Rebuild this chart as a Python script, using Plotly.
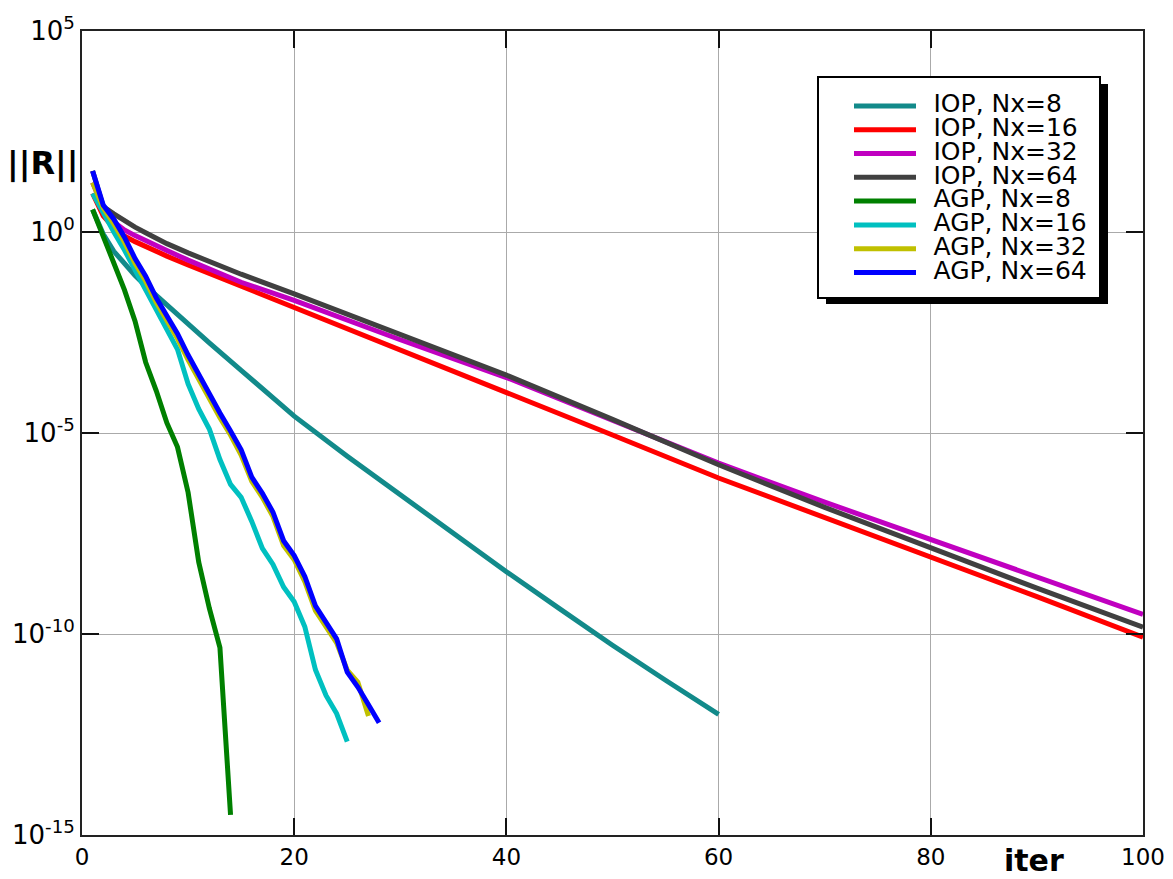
import plotly.graph_objects as go

# ---------------- data (log10 of ||R||) ----------------
iter_iop = [1, 2, 3, 4, 5, 6, 8, 10, 12, 15, 20, 30, 40, 50, 60, 70, 80, 90, 100]
iop16_log = [0.96, 0.40, 0.10, -0.10, -0.24, -0.37, -0.60, -0.82, -1.03, -1.35, -1.87,
             -2.93, -3.97, -5.05, -6.12, -7.10, -8.06, -9.07, -10.08]
iop32_log = [1.23, 0.60, 0.25, 0.05, -0.09, -0.22, -0.46, -0.70, -0.93, -1.25, -1.70,
             -2.68, -3.62, -4.68, -5.75, -6.72, -7.66, -8.59, -9.51]
iop64_log = [1.52, 0.63, 0.45, 0.27, 0.12, -0.02, -0.29, -0.52, -0.74, -1.05, -1.54,
             -2.56, -3.56, -4.66, -5.79, -6.85, -7.87, -8.86, -9.83]

iter_iop8 = [1, 2, 3, 4, 5, 6, 7, 8, 10, 12, 15, 20, 25, 30, 35, 40, 45, 50, 55, 60]
iop8_log = [0.56, -0.05, -0.48, -0.80, -1.08, -1.34, -1.58, -1.82, -2.30, -2.76, -3.44,
            -4.58, -5.58, -6.54, -7.50, -8.45, -9.37, -10.28, -11.15, -12.00]

iter_agp8 = list(range(1, 15))
agp8_log = [0.56, -0.12, -0.80, -1.44, -2.22, -3.24, -3.95, -4.75, -5.35, -6.48,
            -8.21, -9.36, -10.34, -14.50]

iter_agp16 = list(range(1, 26))
agp16_log = [0.96, 0.45, 0.00, -0.45, -0.95, -1.42, -1.90, -2.45, -2.92, -3.78,
             -4.40, -4.90, -5.66, -6.28, -6.60, -7.20, -7.87, -8.27, -8.83, -9.20,
             -9.82, -10.89, -11.53, -11.98, -12.68]

iter_agp32 = list(range(1, 28))
agp32_log = [1.23, 0.60, 0.20, -0.25, -0.78, -1.22, -1.75, -2.20, -2.65, -3.18,
             -3.68, -4.12, -4.62, -5.05, -5.55, -6.20, -6.60, -7.08, -7.80, -8.15,
             -8.70, -9.42, -9.82, -10.22, -10.90, -11.20, -12.04]

iter_agp64 = list(range(1, 29))
agp64_log = [1.52, 0.67, 0.32, -0.13, -0.66, -1.10, -1.64, -2.08, -2.53, -3.06,
             -3.55, -3.99, -4.50, -4.95, -5.42, -6.10, -6.50, -6.97, -7.68, -8.05,
             -8.57, -9.30, -9.72, -10.12, -10.95, -11.32, -11.76, -12.21]

series = [
    ("IOP, Nx=8", iter_iop8, iop8_log, "#128a8a"),
    ("IOP, Nx=16", iter_iop, iop16_log, "#ff0000"),
    ("IOP, Nx=32", iter_iop, iop32_log, "#c000c0"),
    ("IOP, Nx=64", iter_iop, iop64_log, "#404040"),
    ("AGP, Nx=8", iter_agp8, agp8_log, "#008000"),
    ("AGP, Nx=16", iter_agp16, agp16_log, "#00c0c0"),
    ("AGP, Nx=32", iter_agp32, agp32_log, "#c0c000"),
    ("AGP, Nx=64", iter_agp64, agp64_log, "#0000ff"),
]

x_ticks = [0, 20, 40, 60, 80, 100]
y_exponents = [5, 0, -5, -10, -15]
y_ticktext = ["10<sup>%s</sup>" % (str(e) if e >= 0 else "-%d" % (-e)) for e in y_exponents]

# ---------------- figure ----------------
fig = go.Figure()
for name, xs, logs, color in series:
    fig.add_trace(go.Scatter(
        x=xs, y=[10 ** v for v in logs], mode="lines",
        name='<span style="font-size:25px">&#8194;%s</span>' % name,
        line=dict(color=color, width=5),
    ))

L, R, T, B = 82, 30, 31, 44
W, H = 1173, 879
pw, ph = W - L - R, H - T - B


def px(X):
    return (X - L) / pw


def py(Y):
    return (H - B - Y) / ph


axis_common = dict(
    showline=True, linecolor="#222", linewidth=2, mirror="ticks",
    ticks="inside", ticklen=17, tickwidth=1.5, tickcolor="#111",
    showgrid=True, gridcolor="#aaaaaa", gridwidth=1, zeroline=False,
)

fig.update_xaxes(range=[0, 100], tickvals=x_ticks,
                 tickfont=dict(family="DejaVu Sans", size=23, color="black"), **axis_common)
fig.update_yaxes(type="log", range=[-15, 5], tickvals=[10.0 ** e for e in y_exponents],
                 ticktext=y_ticktext,
                 tickfont=dict(family="DejaVu Sans", size=26, color="black"), **axis_common)

# legend box with drop shadow
fig.add_shape(type="rect", xref="paper", yref="paper", layer="above",
              x0=px(826), x1=px(1108), y0=py(304), y1=py(84),
              fillcolor="black", line=dict(width=0))
fig.add_shape(type="rect", xref="paper", yref="paper", layer="above",
              x0=px(818), x1=px(1100), y0=py(298), y1=py(77),
              fillcolor="white", line=dict(color="black", width=2))

fig.update_layout(
    width=W, height=H,
    margin=dict(l=L, r=R, t=T, b=B, autoexpand=False),
    plot_bgcolor="white", paper_bgcolor="white",
    font=dict(family="DejaVu Sans", color="black"),
    showlegend=True,
    legend=dict(
        x=px(849), y=py(89), xanchor="left", yanchor="top",
        bgcolor="rgba(0,0,0,0)", borderwidth=0,
        font=dict(family="DejaVu Sans", size=16, color="black"),
        itemwidth=62, tracegroupgap=0,
    ),
    annotations=[
        dict(text="<b>||R||</b>", xref="paper", yref="paper", x=px(80), y=py(163),
             xanchor="right", yanchor="middle", showarrow=False,
             font=dict(family="DejaVu Sans", size=32, color="black")),
        dict(text="<b>iter</b>", xref="paper", yref="paper", x=px(1034), y=py(861),
             xanchor="center", yanchor="middle", showarrow=False,
             font=dict(family="DejaVu Sans", size=30, color="black")),
    ],
)

fig.write_html("out.html")
